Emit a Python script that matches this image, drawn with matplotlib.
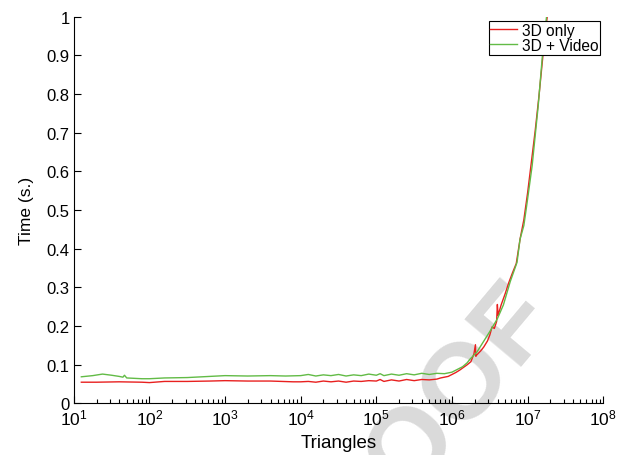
import numpy as np
import matplotlib
matplotlib.use("Agg")
import matplotlib.pyplot as plt

plt.rcParams['font.family'] = ['Liberation Sans', 'DejaVu Sans']
plt.rcParams['mathtext.fontset'] = 'custom'
plt.rcParams['mathtext.rm'] = 'Liberation Sans'
plt.rcParams['mathtext.it'] = 'Liberation Sans'
plt.rcParams['mathtext.default'] = 'regular'

# exponents of the triangle counts (x = 10**exp) and times in seconds
red_exp = [1.1, 1.3, 1.6, 1.9, 2.0, 2.2, 2.5, 2.8, 3.0, 3.3, 3.6, 3.9, 4.0,
           4.1, 4.2, 4.3, 4.4, 4.5, 4.6, 4.7, 4.8, 4.9, 5.0, 5.05, 5.1, 5.2,
           5.3, 5.4, 5.5, 5.6, 5.7, 5.8, 5.85, 5.9, 5.95, 6.0, 6.05, 6.1,
           6.15, 6.2, 6.25, 6.29, 6.31, 6.315, 6.33, 6.38, 6.42, 6.47, 6.5,
           6.53, 6.56, 6.59, 6.6, 6.61, 6.65, 6.7, 6.75, 6.8, 6.85, 6.9,
           6.95, 7.0, 7.05, 7.1, 7.15, 7.2, 7.25, 7.3]
red_time = [0.055, 0.055, 0.056, 0.055, 0.054, 0.057, 0.057, 0.058, 0.059,
            0.058, 0.058, 0.056, 0.056, 0.057, 0.055, 0.058, 0.056, 0.058,
            0.055, 0.058, 0.057, 0.059, 0.058, 0.062, 0.057, 0.061, 0.058,
            0.062, 0.059, 0.062, 0.061, 0.063, 0.066, 0.068, 0.070, 0.075,
            0.080, 0.086, 0.093, 0.100, 0.108, 0.128, 0.152, 0.122, 0.126,
            0.136, 0.146, 0.162, 0.177, 0.198, 0.194, 0.212, 0.256, 0.228,
            0.255, 0.282, 0.312, 0.338, 0.362, 0.425, 0.475, 0.545, 0.625,
            0.705, 0.795, 0.895, 0.985, 1.07]

green_exp = [1.1, 1.25, 1.38, 1.5, 1.6, 1.65, 1.67, 1.7, 1.9, 2.0, 2.2, 2.5,
             2.8, 3.0, 3.3, 3.6, 3.8, 4.0, 4.1, 4.2, 4.3, 4.4, 4.5, 4.6, 4.7,
             4.8, 4.9, 5.0, 5.05, 5.1, 5.2, 5.3, 5.4, 5.5, 5.6, 5.7, 5.8, 5.9,
             5.95, 6.0, 6.07, 6.14, 6.2, 6.24, 6.33, 6.41, 6.5, 6.6, 6.68,
             6.77, 6.86, 6.9, 6.95, 6.99, 7.06, 7.14, 7.2, 7.25, 7.3]
green_time = [0.069, 0.072, 0.076, 0.073, 0.070, 0.068, 0.073, 0.066, 0.064,
              0.064, 0.066, 0.067, 0.070, 0.072, 0.071, 0.072, 0.071, 0.072,
              0.075, 0.071, 0.074, 0.072, 0.075, 0.071, 0.074, 0.072, 0.076,
              0.073, 0.077, 0.072, 0.076, 0.073, 0.077, 0.074, 0.078, 0.075,
              0.078, 0.077, 0.079, 0.081, 0.088, 0.095, 0.105, 0.115, 0.133,
              0.158, 0.186, 0.219, 0.255, 0.315, 0.365, 0.425, 0.46, 0.515,
              0.615, 0.77, 0.91, 1.0, 1.08]

labels = ["3D only", "3D + Video"]
colors = ["#e8201f", "#62bb46"]
xtick_exp = [1, 2, 3, 4, 5, 6, 7, 8]
yticks = [0, 0.1, 0.2, 0.3, 0.4, 0.5, 0.6, 0.7, 0.8, 0.9, 1]

fig = plt.figure(figsize=(6.2, 4.56), dpi=100)
ax = fig.add_axes([0.119, 0.113, 0.854, 0.848])
ax.set_facecolor('none')

# watermark behind the axes
fig.text(0.665, 0.025, "PROOF", fontsize=78, fontweight='bold', color='#dadada',
         rotation=50, ha='center', va='center', zorder=-1)

ax.plot(np.power(10.0, red_exp), red_time, color=colors[0], lw=1.0, label=labels[0])
ax.plot(np.power(10.0, green_exp), green_time, color=colors[1], lw=1.0, label=labels[1])

ax.set_xscale('log')
ax.set_xlim(10, 1e8)
ax.set_ylim(0, 1)
ax.set_xticks([10.0 ** e for e in xtick_exp])
ax.set_xticklabels(["$10^{%d}$" % e for e in xtick_exp])
ax.set_yticks(yticks)
ax.set_yticklabels(["%g" % v for v in yticks])

for s in ['top', 'right']:
    ax.spines[s].set_visible(False)
ax.tick_params(which='major', direction='in', length=5, width=0.8, labelsize=12, pad=3)
ax.tick_params(axis='x', which='major', labelsize=12.5)
ax.tick_params(which='minor', direction='in', length=3, width=0.8)

ax.set_xlabel("Triangles", fontsize=13.5, labelpad=5)
ax.set_ylabel("Time (s.)", fontsize=12.5, labelpad=9)

leg = ax.legend(loc='upper right', bbox_to_anchor=(0.994, 0.99), borderaxespad=0,
                fontsize=11.2, fancybox=False, edgecolor='black', framealpha=1,
                handlelength=1.7, handletextpad=0.3, borderpad=0.12, labelspacing=0.02)
leg.get_frame().set_linewidth(0.8)

fig.savefig("out.png", dpi=100)
